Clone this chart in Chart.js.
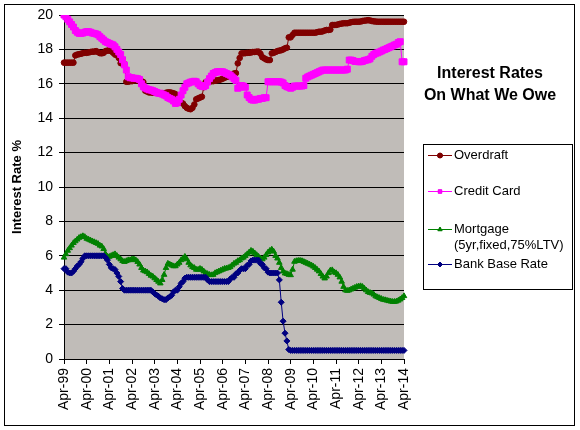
<!DOCTYPE html>
<html><head><meta charset="utf-8">
<script src="https://cdn.jsdelivr.net/npm/chart.js@4.4.1/dist/chart.umd.min.js"></script>
<style>html,body{margin:0;padding:0;background:#fff}canvas{display:block}</style>
</head><body>
<canvas id="c" width="580" height="430"></canvas>
<script>
// ---- data (monthly, Apr-99 .. Apr-14) ----
const MONTHS = ['Apr','May','Jun','Jul','Aug','Sep','Oct','Nov','Dec','Jan','Feb','Mar'];
const tickLabels = ['Apr-99','Apr-00','Apr-01','Apr-02','Apr-03','Apr-04','Apr-05','Apr-06','Apr-07','Apr-08','Apr-09','Apr-10','Apr-11','Apr-12','Apr-13','Apr-14'];
const seriesNames = ['Overdraft','Credit Card','Mortgage (5yr,fixed,75%LTV)','Bank Base Rate'];

const overdraft = [
17.23,17.23,17.23,17.23,17.23,17.23,17.65,17.7,17.72,17.75,17.78,17.8,
17.8,17.82,17.85,17.87,17.87,17.9,17.85,17.78,17.77,17.8,17.9,17.93,
17.93,17.9,17.8,17.7,17.67,17.5,17.2,17.19,17.15,16.12,16.12,16.15,
16.15,16.2,16.2,16.2,16.15,16.15,16.1,15.6,15.55,15.5,15.5,15.48,
15.48,15.48,15.45,15.45,15.45,15.45,15.48,15.5,15.5,15.48,15.45,15.4,
15.0,14.9,14.9,14.85,14.7,14.6,14.55,14.52,14.6,14.8,15.1,15.15,
15.2,15.25,15.8,16.1,16.12,16.12,16.15,16.15,16.18,16.2,16.22,16.25,
16.3,16.35,16.4,16.42,16.45,16.5,16.6,16.62,17.19,17.5,17.77,17.77,
17.78,17.8,17.8,17.82,17.85,17.85,17.87,17.87,17.75,17.55,17.48,17.42,
17.38,17.38,17.77,17.8,17.85,17.9,17.93,17.95,18.0,18.06,18.1,18.7,
18.7,18.84,18.97,18.97,18.97,18.97,18.97,18.97,18.97,18.97,18.97,18.97,
18.97,18.97,19.0,19.03,19.03,19.05,19.1,19.13,19.13,19.15,19.42,19.42,
19.42,19.45,19.48,19.5,19.52,19.52,19.52,19.55,19.58,19.6,19.61,19.61,
19.61,19.62,19.65,19.67,19.68,19.7,19.68,19.65,19.63,19.62,19.61,19.61,
19.61,19.61,19.61,19.61,19.61,19.61,19.61,19.61,19.61,19.61,19.61,19.61,
19.61];

const creditCard = [
20.0,19.9,19.75,19.6,19.45,19.3,19.1,19.0,18.93,18.93,18.95,19.0,
19.03,19.03,19.0,18.95,18.93,18.9,18.85,18.74,18.65,18.55,18.45,18.4,
18.35,18.3,18.26,18.15,18.0,17.85,17.7,17.4,17.1,16.8,16.41,16.35,
16.35,16.32,16.32,16.3,16.25,16.0,15.83,15.75,15.7,15.65,15.64,15.6,
15.55,15.5,15.45,15.45,15.4,15.35,15.3,15.2,15.15,15.1,15.0,14.86,
14.9,15.1,15.35,15.6,15.8,16.0,16.05,16.1,16.12,16.15,16.12,16.0,
15.9,15.85,15.83,15.9,16.1,16.3,16.45,16.6,16.65,16.7,16.7,16.7,
16.7,16.65,16.6,16.55,16.5,16.4,16.3,16.2,15.74,15.8,15.9,15.87,
15.8,15.35,15.2,15.1,15.05,15.05,15.1,15.1,15.15,15.15,15.19,15.19,
16.12,16.12,16.12,16.12,16.12,16.12,16.12,16.1,16.05,15.9,15.83,15.8,
15.74,15.8,15.87,15.87,15.87,15.87,15.87,15.9,16.32,16.4,16.45,16.5,
16.55,16.6,16.65,16.7,16.75,16.8,16.8,16.8,16.8,16.8,16.8,16.8,
16.8,16.8,16.8,16.8,16.8,16.8,16.85,17.38,17.38,17.35,17.3,17.3,
17.28,17.28,17.3,17.35,17.38,17.4,17.45,17.6,17.7,17.77,17.8,17.85,
17.9,17.96,18.0,18.05,18.1,18.15,18.2,18.26,18.3,18.4,18.45,17.28,
17.28];

const mortgage = [
5.9,6.1,6.3,6.45,6.6,6.75,6.85,6.95,7.05,7.1,7.15,7.1,
7.0,6.95,6.9,6.85,6.8,6.75,6.7,6.6,6.55,6.4,6.1,5.95,
5.95,6.0,6.05,6.1,6.0,5.9,5.8,5.7,5.65,5.7,5.75,5.75,
5.8,5.8,5.75,5.65,5.5,5.3,5.15,5.1,5.05,4.95,4.85,4.8,
4.7,4.6,4.5,4.4,4.6,4.9,5.3,5.55,5.5,5.45,5.4,5.4,
5.5,5.6,5.75,5.85,5.95,5.8,5.6,5.45,5.35,5.3,5.2,5.2,
5.25,5.2,5.1,5.0,4.95,4.9,4.88,4.9,5.0,5.05,5.1,5.15,
5.2,5.25,5.27,5.3,5.35,5.45,5.55,5.6,5.7,5.75,5.85,5.9,
6.0,6.1,6.2,6.3,6.25,6.15,6.05,5.95,5.85,5.8,5.9,6.05,
6.2,6.3,6.37,6.25,6.0,5.85,5.6,5.3,5.1,4.98,4.95,4.9,
4.88,5.2,5.66,5.7,5.72,5.72,5.7,5.65,5.6,5.55,5.5,5.45,
5.38,5.3,5.2,5.1,4.95,4.8,4.69,4.8,5.0,5.15,5.17,5.05,
5.0,4.9,4.75,4.5,4.2,4.0,3.97,4.0,4.05,4.1,4.15,4.2,
4.22,4.24,4.2,4.1,4.0,3.9,3.85,3.82,3.75,3.65,3.6,3.55,
3.5,3.45,3.43,3.4,3.37,3.35,3.33,3.33,3.35,3.4,3.47,3.55,
3.66];

const baseRate = [
5.25,5.25,5.05,5.0,5.0,5.1,5.25,5.4,5.5,5.65,5.85,6.0,
6.0,6.0,6.0,6.0,6.0,6.0,6.0,6.0,6.0,6.0,5.9,5.75,
5.5,5.3,5.25,5.2,5.0,4.8,4.5,4.1,4.0,4.0,4.0,4.0,
4.0,4.0,4.0,4.0,4.0,4.0,4.0,4.0,4.0,4.0,4.0,3.9,
3.8,3.72,3.65,3.55,3.5,3.45,3.45,3.55,3.62,3.7,3.9,4.0,
4.0,4.2,4.4,4.5,4.7,4.75,4.75,4.75,4.75,4.75,4.75,4.75,
4.75,4.75,4.75,4.75,4.6,4.5,4.5,4.5,4.5,4.5,4.5,4.5,
4.5,4.5,4.5,4.5,4.65,4.75,4.75,4.95,5.0,5.15,5.25,5.25,
5.25,5.45,5.5,5.7,5.75,5.75,5.75,5.75,5.55,5.5,5.3,5.25,
5.05,5.0,5.0,5.0,5.0,5.0,4.6,3.3,2.2,1.5,1.05,0.55,
0.5,0.5,0.5,0.5,0.5,0.5,0.5,0.5,0.5,0.5,0.5,0.5,
0.5,0.5,0.5,0.5,0.5,0.5,0.5,0.5,0.5,0.5,0.5,0.5,
0.5,0.5,0.5,0.5,0.5,0.5,0.5,0.5,0.5,0.5,0.5,0.5,
0.5,0.5,0.5,0.5,0.5,0.5,0.5,0.5,0.5,0.5,0.5,0.5,
0.5,0.5,0.5,0.5,0.5,0.5,0.5,0.5,0.5,0.5,0.5,0.5,
0.5];

// month category labels
const categories = [];
for (let y = 0; y < 15; y++) {
  for (let m = 0; m < 12; m++) {
    const yr = (m < 9 ? 99 + y : 100 + y) % 100;
    categories.push(MONTHS[m] + '-' + String(yr).padStart(2, '0'));
  }
}
categories.push('Apr-14');

const COLORS = ['#800000', '#ff00ff', '#008000', '#000080'];
const STYLES = ['circle', 'rect', 'triangle', 'rectRot'];
const RADII = [2.8, 4.2, 3.2, 3.0];
const FONT = '"Liberation Sans", Arial, sans-serif';

const frame = {
  id: 'frame',
  beforeDraw(chart) {
    const {ctx, chartArea: a} = chart;
    ctx.save();
    ctx.fillStyle = '#ffffff';
    ctx.fillRect(0, 0, chart.width, chart.height);
    ctx.fillStyle = '#c0bcb8';
    ctx.fillRect(a.left, a.top, a.right - a.left, a.bottom - a.top);
    ctx.restore();
  },
  afterDraw(chart) {
    const ctx = chart.ctx;
    ctx.save();
    ctx.strokeStyle = '#000';
    ctx.lineWidth = 1;
    ctx.strokeRect(4.5, 4.5, 570, 421);
    // title
    ctx.fillStyle = '#000';
    ctx.textAlign = 'center';
    ctx.textBaseline = 'alphabetic';
    ctx.font = 'bold 16px ' + FONT;
    ctx.fillText('Interest Rates', 490, 78);
    ctx.fillText('On What We Owe', 490, 100);
    // legend
    ctx.strokeRect(423.5, 144.5, 149, 145);
    const rows = [
      {y: 155, lines: ['Overdraft']},
      {y: 191, lines: ['Credit Card']},
      {y: 229, lines: ['Mortgage', '(5yr,fixed,75%LTV)']},
      {y: 264, lines: ['Bank Base Rate']}
    ];
    ctx.font = '13px ' + FONT;
    ctx.textAlign = 'left';
    ctx.textBaseline = 'middle';
    rows.forEach((r, i) => {
      ctx.strokeStyle = COLORS[i];
      ctx.beginPath();
      ctx.moveTo(428, r.y + 0.5);
      ctx.lineTo(452, r.y + 0.5);
      ctx.stroke();
      Chart.helpers.drawPoint(ctx, {pointStyle: STYLES[i], radius: 2.5, borderWidth: 1}, 440, r.y + 0.5);
      ctx.fillStyle = COLORS[i];
      ctx.fill();
      ctx.fillStyle = '#000';
      r.lines.forEach((t, k) => ctx.fillText(t, 454, r.y + k * 16));
    });
    ctx.restore();
  }
};

const series = [overdraft, creditCard, mortgage, baseRate];
new Chart(document.getElementById('c'), {
  type: 'line',
  data: {
    labels: categories,
    datasets: series.map((d, i) => ({
      label: seriesNames[i],
      data: d,
      borderColor: COLORS[i],
      backgroundColor: COLORS[i],
      borderWidth: 1,
      pointStyle: STYLES[i],
      pointRadius: RADII[i],
      pointBorderWidth: 1,
      pointBorderColor: COLORS[i],
      pointBackgroundColor: COLORS[i],
      tension: 0,
      fill: false,
      order: 4 - i
    }))
  },
  options: {
    responsive: false,
    animation: false,
    devicePixelRatio: 1,
    layout: {padding: {left: 0, top: 15, right: 176, bottom: 0}},
    plugins: {legend: {display: false}, tooltip: {enabled: false}, title: {display: false}},
    scales: {
      x: {
        type: 'category',
        offset: false,
        afterFit(s) { s.height = 71; },
        grid: {drawOnChartArea: false, drawTicks: true, tickLength: 5, color: '#000'},
        border: {display: true, color: '#000', width: 1},
        ticks: {
          autoSkip: false, minRotation: 90, maxRotation: 90, padding: 4,
          color: '#000', font: {family: FONT, size: 14},
          callback(v) { const l = this.getLabelForValue(v); return tickLabels.includes(l) ? l : null; }
        }
      },
      y: {
        min: 0, max: 20,
        afterFit(s) { s.width = 64; },
        grid: {color: '#000', tickLength: 5, drawTicks: true},
        border: {display: true, color: '#000', width: 1},
        ticks: {stepSize: 2, padding: 6, color: '#000', font: {family: FONT, size: 14}},
        title: {display: true, text: 'Interest Rate %', color: '#000', font: {family: FONT, size: 13, weight: 'bold'}, padding: {top: 10, bottom: 0}}
      }
    }
  },
  plugins: [frame]
});
</script>
</body></html>
